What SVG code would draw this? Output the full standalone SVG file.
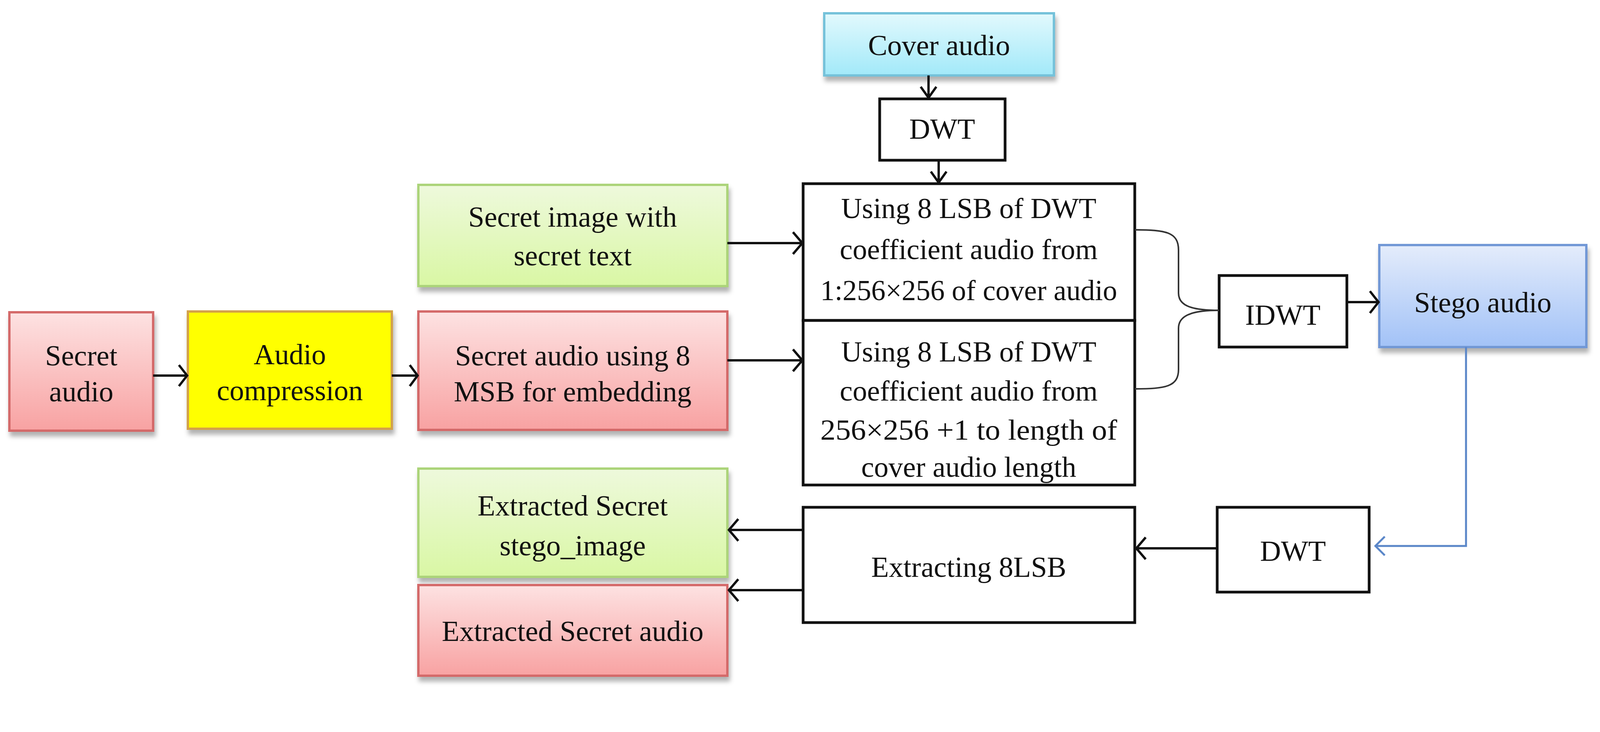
<svg xmlns="http://www.w3.org/2000/svg" width="4346" height="1873" viewBox="0 0 4346 1873">
<style>
text{font-family:"Liberation Serif","DejaVu Serif",serif;font-size:74px;fill:#111;text-anchor:middle}
.plain{fill:#fff;stroke:#111;stroke-width:7}
.ln{fill:none;stroke:#111;stroke-width:6}
</style>
<defs>
<linearGradient id="gp" x1="0" y1="0" x2="0" y2="1"><stop offset="0" stop-color="#fde2e2"/><stop offset="1" stop-color="#f8a2a2"/></linearGradient>
<linearGradient id="gg" x1="0" y1="0" x2="0" y2="1"><stop offset="0" stop-color="#eef9dc"/><stop offset="1" stop-color="#d9f7a4"/></linearGradient>
<linearGradient id="gc" x1="0" y1="0" x2="0" y2="1"><stop offset="0" stop-color="#e2f9fd"/><stop offset="1" stop-color="#a2e9f9"/></linearGradient>
<linearGradient id="gb" x1="0" y1="0" x2="0" y2="1"><stop offset="0" stop-color="#e4ecfb"/><stop offset="1" stop-color="#a2c2f7"/></linearGradient>
<filter id="sh" x="-10%" y="-10%" width="130%" height="140%"><feDropShadow dx="4" dy="12" stdDeviation="6" flood-color="#000" flood-opacity="0.3"/></filter>
</defs>
<g id="cover"><rect x="2110" y="34" width="588" height="159" fill="url(#gc)" stroke="#74c2da" stroke-width="6" filter="url(#sh)"/><text x="2404" y="141">Cover audio</text></g>
<g id="dwt1"><rect class="plain" x="2252" y="253" width="321" height="157"/><text x="2412" y="355">DWT</text></g>
<g id="emb1"><rect class="plain" x="2056" y="470" width="849" height="350"/><text x="2480" y="558">Using 8 LSB of DWT</text><text x="2480" y="663">coefficient audio from</text><text x="2480" y="768" textLength="760" lengthAdjust="spacingAndGlyphs">1:256×256 of cover audio</text></g>
<g id="emb2"><rect class="plain" x="2056" y="820" width="849" height="421"/><text x="2480" y="925">Using 8 LSB of DWT</text><text x="2480" y="1025">coefficient audio from</text><text x="2480" y="1125" textLength="760" lengthAdjust="spacingAndGlyphs">256×256 +1 to length of</text><text x="2480" y="1220">cover audio length</text></g>
<g id="simg"><rect x="1071" y="473" width="791" height="259" fill="url(#gg)" stroke="#acd47a" stroke-width="6" filter="url(#sh)"/><text x="1466" y="580">Secret image with</text><text x="1466" y="679">secret text</text></g>
<g id="saudio"><rect x="24" y="799" width="368" height="303" fill="url(#gp)" stroke="#d46a6a" stroke-width="6" filter="url(#sh)"/><text x="208" y="935">Secret</text><text x="208" y="1027">audio</text></g>
<g id="comp"><rect x="481" y="797" width="522" height="300" fill="#ffff00" stroke="#d4a24a" stroke-width="6" filter="url(#sh)"/><text x="742" y="932">Audio</text><text x="742" y="1024">compression</text></g>
<g id="sa8"><rect x="1071" y="797" width="791" height="303" fill="url(#gp)" stroke="#d46a6a" stroke-width="6" filter="url(#sh)"/><text x="1466" y="935">Secret audio using 8</text><text x="1466" y="1027">MSB for embedding</text></g>
<g id="idwt"><rect class="plain" x="3121" y="705" width="327" height="183"/><text x="3284" y="831">IDWT</text></g>
<g id="stego"><rect x="3531" y="627" width="530" height="261" fill="url(#gb)" stroke="#7298d6" stroke-width="6" filter="url(#sh)"/><text x="3796" y="799">Stego audio</text></g>
<g id="eimg"><rect x="1071" y="1199" width="791" height="277" fill="url(#gg)" stroke="#acd47a" stroke-width="6" filter="url(#sh)"/><text x="1466" y="1319">Extracted Secret</text><text x="1466" y="1421">stego_image</text></g>
<g id="eaudio"><rect x="1071" y="1497" width="791" height="232" fill="url(#gp)" stroke="#d46a6a" stroke-width="6" filter="url(#sh)"/><text x="1466" y="1640">Extracted Secret audio</text></g>
<g id="extr"><rect class="plain" x="2056" y="1298" width="849" height="295"/><text x="2480" y="1476">Extracting 8LSB</text></g>
<g id="dwt2"><rect class="plain" x="3116" y="1298" width="389" height="217"/><text x="3310" y="1435">DWT</text></g>
<g id="connectors">
<path class="ln" d="M2377 193V250M2357 222L2377 250L2397 222" stroke-width="4"/>
<path class="ln" d="M2403 410V467M2383 439L2403 467L2423 439" stroke-width="4"/>
<path class="ln" d="M1862 622H2052M2030 594L2054 622L2030 650"/>
<path class="ln" d="M1862 922H2052M2030 894L2054 922L2030 950"/>
<path class="ln" d="M392 961H477M458 934L479 961L458 988"/>
<path class="ln" d="M1003 961H1067M1049 934L1069 961L1049 988"/>
<path class="ln" d="M3448 773H3527M3507 745L3529 773L3507 801" stroke-width="8"/>
<path d="M2905 588C2985 588 3017 594 3017 640V750C3017 780 3045 794 3121 794M2905 995C2985 995 3017 989 3017 945V840C3017 810 3045 794 3121 794" fill="none" stroke="#333" stroke-width="4"/>
<path d="M3753 888V1397H3521M3545 1373L3521 1397L3545 1421" fill="none" stroke="#5a86c8" stroke-width="5"/>
<path class="ln" d="M3116 1403H2909M2933 1375L2909 1403L2933 1431"/>
<path class="ln" d="M2056 1356H1866M1890 1328L1866 1356L1890 1384"/>
<path class="ln" d="M2056 1510H1866M1890 1482L1866 1510L1890 1538"/>
</g>
</svg>
